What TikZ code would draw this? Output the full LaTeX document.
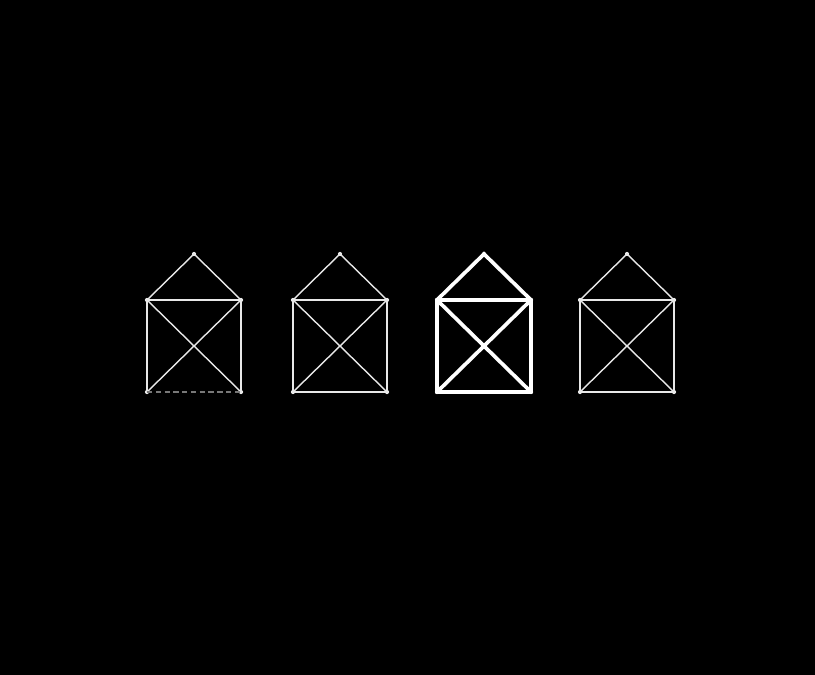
\documentclass[tikz,border=0pt]{standalone}
\usepackage{tikz}
\usetikzlibrary{positioning}
\definecolor{mybg}{RGB}{0,0,0}
\definecolor{mywire}{RGB}{232,232,232}
\definecolor{myfaint}{RGB}{120,120,120}
\tikzset{
  vtx/.style={circle, fill=mywire, inner sep=0pt, minimum size=2.4pt},
  wire/.style={draw=mywire, line width=0.8pt, line cap=round},
  boldwire/.style={draw=white, line width=2.1pt, line cap=round},
  faintwire/.style={draw=myfaint, line width=0.6pt, densely dashed}
}

\begin{document}
\begin{tikzpicture}[x=0.02cm, y=-0.02cm]
  \fill[mybg] (0,0) rectangle (815,675);
  \useasboundingbox (0,0) rectangle (815,675);

  % four houses, square with crossed diagonals and a roof
  \foreach \i/\x/\s in {1/147/wire, 2/293/wire, 3/437/boldwire, 4/580/wire}{
    \node[vtx] (apex\i) at (\x+47,254) {};
    \node[vtx] (tl\i) at (\x,300) {};
    \node[vtx] (tr\i) at (\x+94,300) {};
    \node[vtx] (bl\i) at (\x,392) {};
    \node[vtx] (br\i) at (\x+94,392) {};
    \draw[\s] (tl\i.center) -- (apex\i.center) -- (tr\i.center);
    \draw[\s] (tl\i.center) -- (tr\i.center);
    \draw[\s] (tl\i.center) -- (bl\i.center);
    \draw[\s] (tr\i.center) -- (br\i.center);
    \draw[\s] (tl\i.center) -- (br\i.center);
    \draw[\s] (tr\i.center) -- (bl\i.center);
  }
  % bottom edges (the first one is faint)
  \draw[faintwire] (bl1.center) -- (br1.center);
  \draw[wire] (bl2.center) -- (br2.center);
  \draw[boldwire] (bl3.center) -- (br3.center);
  \draw[wire] (bl4.center) -- (br4.center);
\end{tikzpicture}
\end{document}
